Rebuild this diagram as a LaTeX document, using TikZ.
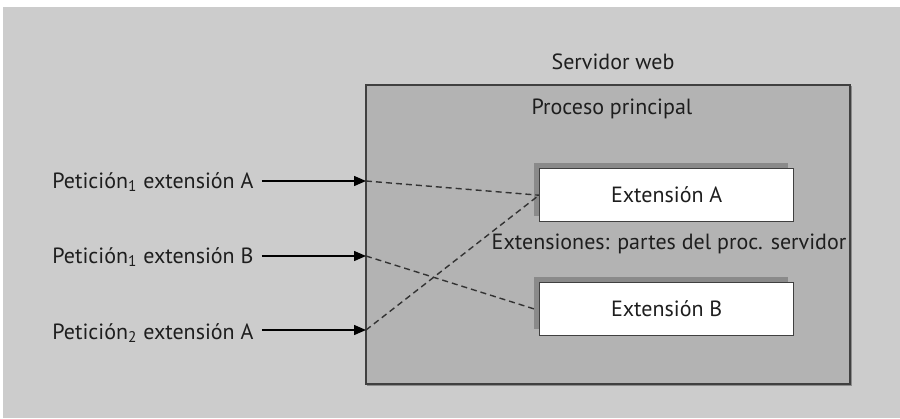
\documentclass[tikz,border=0pt]{standalone}
\usepackage{fontspec}
\setmainfont{PT Sans}
\usetikzlibrary{arrows.meta}
\definecolor{bggray}{HTML}{CCCCCC}
\definecolor{boxgray}{HTML}{B3B3B3}
\definecolor{shadowgray}{HTML}{8A8A8A}
\definecolor{edgegray}{HTML}{404040}
\definecolor{txt}{HTML}{1E1E1E}
\tikzset{
  lbl/.style={font=\fontsize{11}{13}\selectfont, text=txt, inner sep=0pt},
  extbox/.style={draw=edgegray, line width=0.7pt, fill=white, minimum width=127pt, minimum height=26.5pt, inner sep=0pt, font=\fontsize{11}{13}\selectfont, text=txt},
  req/.style={draw=black, line width=0.7pt, -{Triangle[length=6pt,width=5pt]}},
  link/.style={draw=black!80, line width=0.7pt, dash pattern=on 3pt off 2pt}
}
\begin{document}
\begin{tikzpicture}[x=0.5pt,y=-0.5pt]
\useasboundingbox (0,0) rectangle (900,418);
\fill[white] (0,0) rectangle (900,418);
\fill[bggray] (3,7) rectangle (900,418);
% main box
\fill[black!45] (367,86) rectangle (851.5,385.5);
\draw[edgegray, line width=1pt, fill=boxgray] (366,85) rectangle (850,384);
\node[lbl] (web) at (613,62) {Servidor web};
\node[lbl] (proc) at (612,109) {Proceso principal};
% extension boxes
\fill[shadowgray] (534,163) rectangle (788,216);
\node[extbox, anchor=north west] (extA) at (539,168) {Extensión A};
\fill[shadowgray] (534,277) rectangle (788,329);
\node[extbox, anchor=north west] (extB) at (539,282) {Extensión B};
\node[lbl] (exts) at (669,244) {Extensiones: partes del proc. servidor};
% requests
\node[lbl, anchor=west] (r1) at (52,182) {Petición\textsubscript{1} extensión A};
\node[lbl, anchor=west] (r2) at (52,257) {Petición\textsubscript{1} extensión B};
\node[lbl, anchor=west] (r3) at (52,333) {Petición\textsubscript{2} extensión A};
\coordinate (t1) at (366,181);
\coordinate (t2) at (366,256);
\coordinate (t3) at (366,330);
\draw[req] ([xshift=4pt]r1.east |- t1) -- (t1);
\draw[req] ([xshift=4pt]r2.east |- t2) -- (t2);
\draw[req] ([xshift=4pt]r3.east |- t3) -- (t3);
\draw[link] (t1) -- (extA.west);
\draw[link] (t3) -- (extA.west);
\draw[link] (t2) -- ([xshift=-2pt]extB.west);
\end{tikzpicture}
\end{document}
